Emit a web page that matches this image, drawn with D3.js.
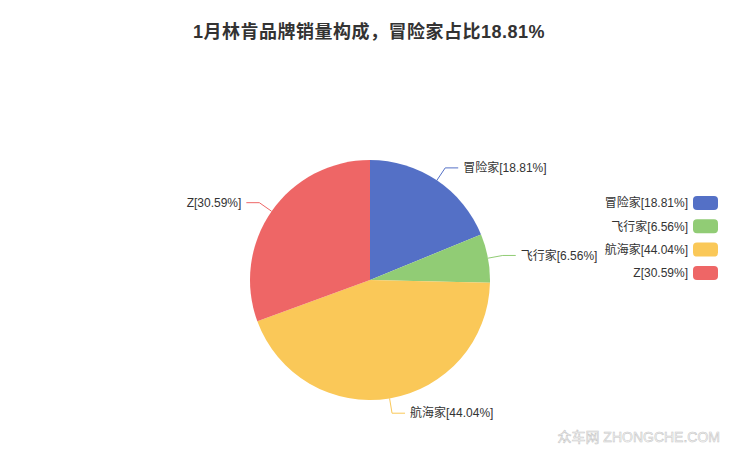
<!DOCTYPE html>
<html><head><meta charset="utf-8">
<script src="https://cdn.jsdelivr.net/npm/d3@7/dist/d3.min.js"></script>
<style>body{margin:0;background:#fff;}svg{display:block;}</style>
</head><body>
<svg id="c" width="740" height="455"></svg>
<script>
const titleText = "1月林肯品牌销量构成，冒险家占比18.81%";
const categories = ["冒险家", "飞行家", "航海家", "Z"];
const shares = [18.81, 6.56, 44.04, 30.59];
const colors = ["#5470c6", "#91cc75", "#fac858", "#ee6666"];

const svg = d3.select("#c");
const font = "'Liberation Sans', 'Noto Sans CJK SC', sans-serif";
const cx = 370, cy = 280, R = 120;

svg.append("text").attr("x", 369).attr("y", 38).attr("text-anchor", "middle")
  .attr("font-family", font).attr("font-weight", "bold").attr("font-size", 18)
  .attr("letter-spacing", 0.5)
  .attr("fill", "#333").text(titleText);

const data = categories.map((c, i) => ({name: c, value: shares[i], color: colors[i]}));
const pie = d3.pie().value(d => d.value).sort(null);
const arcs = pie(data);
const arc = d3.arc().innerRadius(0).outerRadius(R);
const g = svg.append("g").attr("transform", `translate(${cx},${cy})`);
g.selectAll("path").data(arcs).join("path").attr("d", arc).attr("fill", d => d.data.color);

// labels
arcs.forEach(a => {
  const m = (a.startAngle + a.endAngle) / 2;
  const p1 = [R * Math.sin(m), -R * Math.cos(m)];
  const p2 = [(R + 15) * Math.sin(m), -(R + 15) * Math.cos(m)];
  const dir = Math.sin(m) >= 0 ? 1 : -1;
  const p3 = [p2[0] + dir * 13, p2[1]];
  g.append("polyline").attr("points", [p1, p2, p3].map(p => p.join(",")).join(" "))
    .attr("fill", "none").attr("stroke", a.data.color).attr("stroke-width", 1);
  g.append("text").attr("x", p3[0] + dir * 5).attr("y", p3[1]).attr("dy", "0.35em")
    .attr("text-anchor", dir > 0 ? "start" : "end")
    .attr("font-family", font).attr("font-size", 12).attr("fill", "#333")
    .text(`${a.data.name}[${a.data.value.toFixed(2)}%]`);
});

// legend
const lg = svg.append("g");
data.forEach((d, i) => {
  const y = 203 + i * 23.3;
  lg.append("rect").attr("x", 693).attr("y", y - 7).attr("width", 25).attr("height", 14)
    .attr("rx", 4).attr("ry", 4).attr("fill", d.color);
  lg.append("text").attr("x", 688).attr("y", y).attr("dy", "0.35em").attr("text-anchor", "end")
    .attr("font-family", font).attr("font-size", 12).attr("fill", "#333")
    .text(`${d.name}[${d.value.toFixed(2)}%]`);
});

// watermark
svg.append("text").attr("x", 720).attr("y", 442).attr("text-anchor", "end")
  .attr("font-family", font).attr("font-size", 14).attr("fill", "#fff")
  .attr("stroke", "#c8c8c8").attr("stroke-width", 0.6)
  .text("众车网 ZHONGCHE.COM");
</script>
</body></html>
